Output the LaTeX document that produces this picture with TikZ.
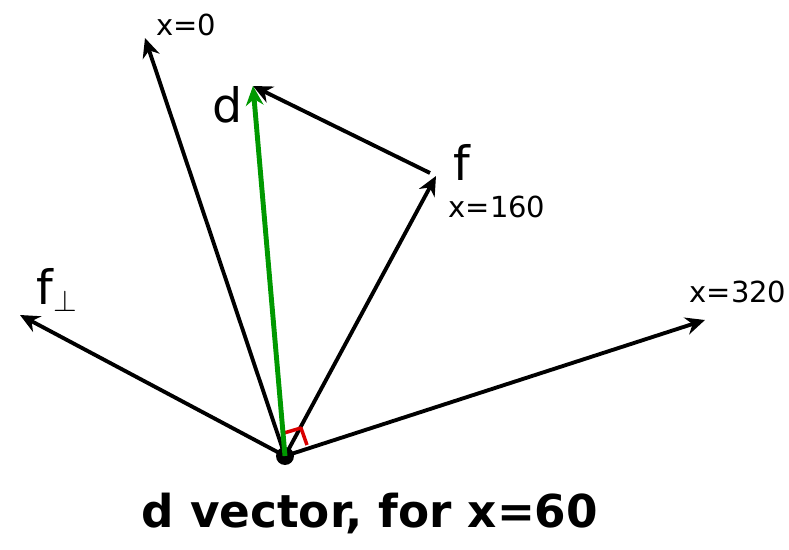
\documentclass[tikz,border=0pt]{standalone}
\usepackage{fontspec}
\setmainfont{DejaVu Sans}
\usepackage{tikz}
\usetikzlibrary{positioning, arrows.meta, calc}

\begin{document}
\begin{tikzpicture}[
    x=0.02cm, y=0.02cm,
    >={Stealth[length=11pt, width=10pt]},
    vec/.style={->, line width=2.2pt, black},
    dvec/.style={->, line width=2.8pt, green!60!black},
    lbl/.style={font=\fontsize{16.5}{18}\selectfont, inner sep=0pt},
    biglbl/.style={font=\fontsize{27}{30}\selectfont, inner sep=0pt}
]
    \useasboundingbox (0,0) rectangle (789,549);

    % 原点与各向量终点
    \coordinate (O) at (285,93);
    \coordinate (X0) at (145,511);
    \coordinate (D) at (253,463);
    \coordinate (F) at (436,373);
    \coordinate (X320) at (705,229);
    \coordinate (Fp) at (20,234);
    \coordinate (Fs) at (430,376);

    % 黑色向量
    \draw[vec] (O) -- (X0);
    \draw[vec] (O) -- (F);
    \draw[vec] (O) -- (X320);
    \draw[vec] (O) -- (Fp);
    \draw[vec] (Fs) -- (D);

    % 角度标记
    \draw[red!85!black, line width=2pt, line join=round]
        (284,116) -- (301,121) -- (307,104);

    % 原点
    \fill[black] (O) circle (9);

    % d 向量
    \draw[dvec] (O) -- (D);

    % 标签
    \node[lbl] (lx0) at (186,524) {x=0};
    \node[biglbl] (ld) at (228,444) {d};
    \node[biglbl] (lf) at (462,387) {f};
    \node[lbl] (lx160) at (497,342) {x=160};
    \node[biglbl] (lfp) at (57,259) {f$_\perp$};
    \node[lbl] (lx320) at (738,257) {x=320};

    \node[font=\fontsize{25.8}{30}\selectfont\bfseries] (cap) at (370,36) {d vector, for x=60};
\end{tikzpicture}
\end{document}
